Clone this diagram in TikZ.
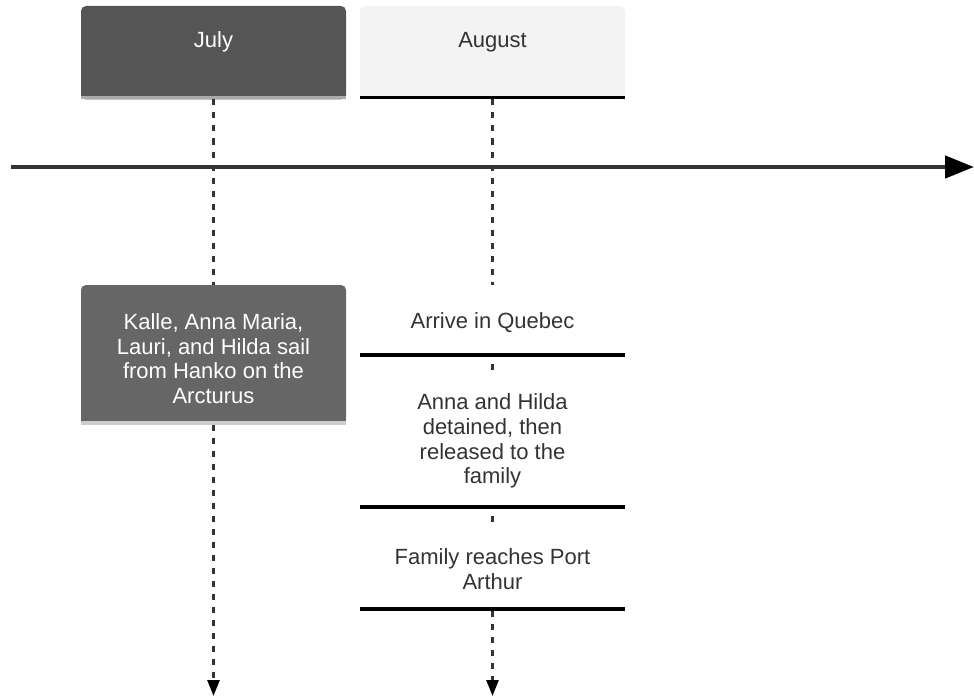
\documentclass[tikz,border=0pt]{standalone}
\usepackage{fontspec}
\setmainfont{Liberation Sans}
\usetikzlibrary{arrows.meta}
\definecolor{julyfill}{HTML}{555555}
\definecolor{julystripe}{HTML}{ABABAB}
\definecolor{kallefill}{HTML}{666666}
\definecolor{kallestripe}{HTML}{CCCCCC}
\definecolor{augfill}{HTML}{F3F3F3}
\definecolor{ink}{HTML}{333333}
\begin{document}
\begin{tikzpicture}[x=1pt,y=-1pt,
  area/.style={rectangle, inner sep=0pt, outer sep=0pt, anchor=north west, minimum width=265pt},
  lbl/.style={font=\fontsize{22}{24.7}\selectfont, align=center, inner sep=0pt},
  dashline/.style={draw=ink, line width=2.5pt, dash pattern=on 6pt off 7pt},
  tip/.style={-{Triangle[length=16pt,width=12pt,fill=black,color=black]}}
]
\useasboundingbox (0,0) rectangle (974,698);

% areas
\node[area, minimum height=93.5pt] (july) at (81,6) {};
\node[area, minimum height=93.5pt] (aug) at (360,6) {};
\node[area, minimum height=139.5pt] (kalle) at (81,285) {};
\node[area, minimum height=71.7pt] (e1) at (360,285) {};
\node[area, minimum height=138.7pt] (e2) at (360,370) {};
\node[area, minimum height=85.7pt] (e3) at (360,525) {};

% July box
\fill[julyfill, rounded corners=5pt] (july.north west) rectangle (july.south east);
\fill[julyfill] ([yshift=20pt]july.south west) rectangle (july.south east);
\fill[julystripe] ([yshift=3.5pt]july.south west) rectangle (july.south east);
% August box
\fill[augfill, rounded corners=5pt] (aug.north west) rectangle (aug.south east);
\fill[augfill] ([yshift=20pt]aug.south west) rectangle (aug.south east);
\fill[black] ([yshift=3.5pt]aug.south west) rectangle (aug.south east);
% Kalle box
\fill[kallefill, rounded corners=5pt] (kalle.north west) rectangle (kalle.south east);
\fill[kallefill] ([yshift=20pt]kalle.south west) rectangle (kalle.south east);
\fill[kallestripe] ([yshift=4pt]kalle.south west) rectangle (kalle.south east);
% event underlines
\fill[black] ([yshift=4pt]e1.south west) rectangle (e1.south east);
\fill[black] ([yshift=4pt]e2.south west) rectangle (e2.south east);
\fill[black] ([yshift=4pt]e3.south west) rectangle (e3.south east);

% timeline
\coordinate (ta) at (11,167);
\coordinate (tb) at (974,167);
\draw[ink, line width=4.5pt, -{Triangle[length=29pt,width=22pt,fill=black,color=black]}] (ta) -- (tb);

% dashed connectors
\coordinate (end1) at (213.5,696);
\coordinate (end2) at (492.5,696);
\draw[dashline] (july.south) -- (kalle.north);
\draw[dashline] (aug.south) -- (e1.north);
\draw[dashline, dash phase=6pt] (e1.south) -- (e2.north);
\draw[dashline, dash phase=6pt] (e2.south) -- (e3.north);
\draw[dashline, tip] (kalle.south) -- (end1);
\draw[dashline, tip] (e3.south) -- (end2);

% labels
\node[lbl, text=white] (tjuly) at (213.5,42) {July};
\node[lbl, text=ink] (taug) at (492.5,42) {August};
\node[lbl, text=white] (tkalle) at (213.5,358.5) {Kalle, Anna Maria,\\Lauri, and Hilda sail\\from Hanko on the\\Arcturus};
\node[lbl, text=ink] (t1) at (492.5,322.5) {Arrive in Quebec};
\node[lbl, text=ink] (t2) at (492.5,441) {Anna and Hilda\\detained, then\\released to the\\family};
\node[lbl, text=ink] (t3) at (492.5,569) {Family reaches Port\\Arthur};
\end{tikzpicture}
\end{document}
